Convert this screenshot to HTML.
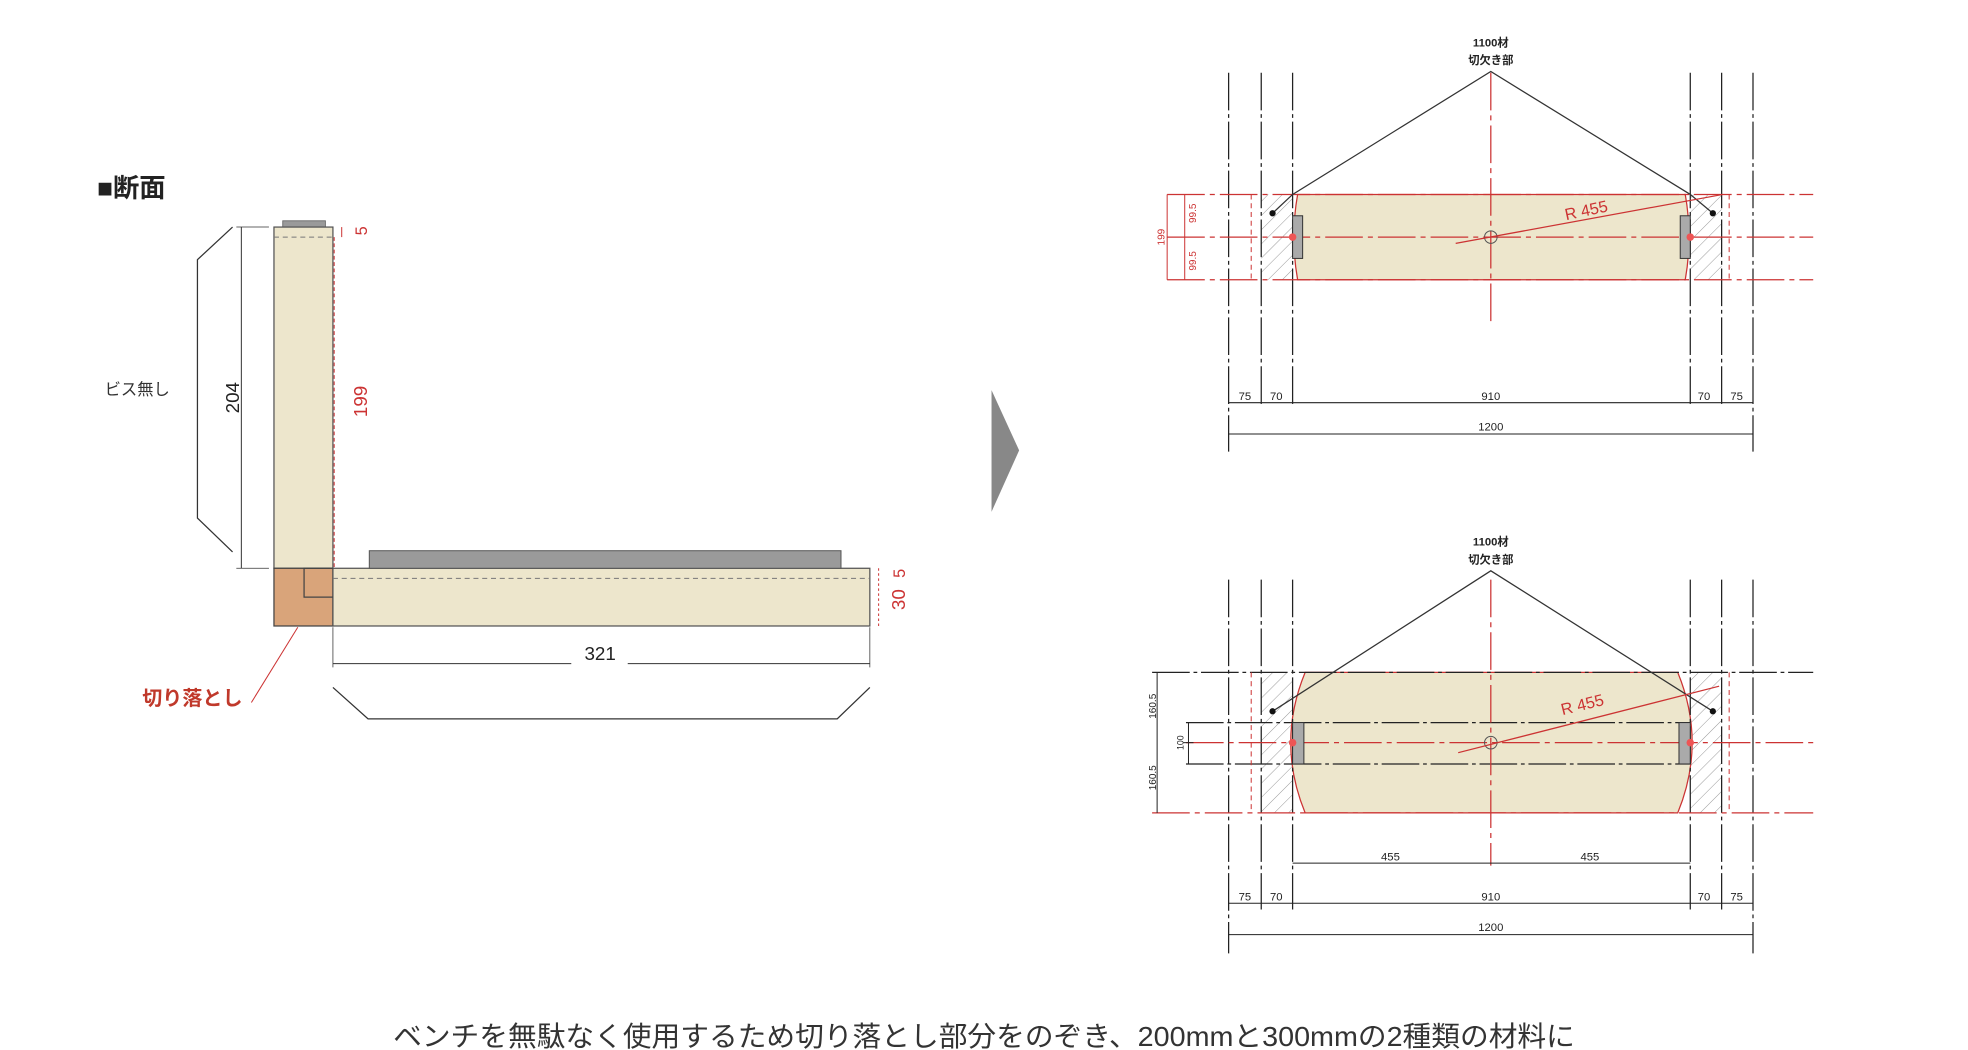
<!DOCTYPE html>
<html><head><meta charset="utf-8"><style>
html,body{margin:0;padding:0;background:#fff;}
svg{display:block;}
text{font-family:"Liberation Sans","Noto Sans CJK JP",sans-serif;}
</style></head><body>
<svg width="1968" height="1050" viewBox="0 0 1568 837" xmlns="http://www.w3.org/2000/svg">
<defs>
<pattern id="h" width="8" height="8" patternUnits="userSpaceOnUse" patternTransform="rotate(45)">
<line x1="0" y1="0" x2="0" y2="8" stroke="#999" stroke-width="0.8"/></pattern>
</defs>
<rect width="1568" height="837" fill="#fff"/>
<!-- LEFT -->
<text x="77" y="157" font-size="21" font-weight="bold" fill="#222">■断面</text>
<rect x="225" y="176" width="34" height="5" fill="#9a9a9a" stroke="#666" stroke-width="0.7"/>
<rect x="218" y="181" width="47" height="272" fill="#ede6cc" stroke="#555" stroke-width="1"/>
<line x1="218" y1="189" x2="265" y2="189" stroke="#777" stroke-dasharray="4,3" stroke-width="0.8"/>
<rect x="218" y="453" width="47" height="46" fill="#d9a47a" stroke="#444" stroke-width="1"/>
<rect x="265" y="453" width="428" height="46" fill="#ede6cc" stroke="#555" stroke-width="1"/>
<polyline points="265,453 242,453 242,476 265,476" fill="none" stroke="#444" stroke-width="1"/>
<rect x="294" y="439" width="376" height="14" fill="#9a9a9a" stroke="#555" stroke-width="0.8"/>
<line x1="265" y1="461" x2="693" y2="461" stroke="#777" stroke-dasharray="4,3" stroke-width="0.8"/>
<!-- dims -->
<line x1="192" y1="181" x2="192" y2="453" stroke="#333" stroke-width="0.8"/>
<line x1="188" y1="181" x2="214" y2="181" stroke="#333" stroke-width="0.6"/>
<line x1="188" y1="453" x2="214" y2="453" stroke="#333" stroke-width="0.6"/>
<text transform="translate(190,317) rotate(-90)" font-size="15" text-anchor="middle" fill="#222">204</text>
<polyline points="185,181 157,207 157,413 185,440" fill="none" stroke="#333" stroke-width="1"/>
<text x="83" y="315" font-size="13" fill="#333">ビス無し</text>
<line x1="266" y1="189" x2="266" y2="453" stroke="#c33" stroke-dasharray="3,2" stroke-width="0.8"/>
<line x1="272" y1="181" x2="272" y2="189" stroke="#c33" stroke-width="0.8"/>
<text transform="translate(292,184) rotate(-90)" font-size="13" text-anchor="middle" fill="#c33">5</text>
<text transform="translate(292,320) rotate(-90)" font-size="15" text-anchor="middle" fill="#c33">199</text>
<line x1="700" y1="453" x2="700" y2="499" stroke="#c33" stroke-width="0.8" stroke-dasharray="2,2"/>
<text transform="translate(721,457) rotate(-90)" font-size="13" text-anchor="middle" fill="#c33">5</text>
<text transform="translate(721,478) rotate(-90)" font-size="15" text-anchor="middle" fill="#c33">30</text>
<line x1="265" y1="529" x2="455" y2="529" stroke="#333" stroke-width="0.8"/>
<line x1="500" y1="529" x2="693" y2="529" stroke="#333" stroke-width="0.8"/>
<line x1="265" y1="500" x2="265" y2="532" stroke="#333" stroke-width="0.6"/>
<line x1="693" y1="500" x2="693" y2="532" stroke="#333" stroke-width="0.6"/>
<text x="478" y="526" font-size="15" text-anchor="middle" fill="#222">321</text>
<polyline points="265,548 293,573 667,573 693,548" fill="none" stroke="#333" stroke-width="1"/>
<line x1="237" y1="500" x2="200" y2="560" stroke="#c33" stroke-width="0.8"/>
<text x="113" y="562" font-size="16" font-weight="bold" fill="#c0392b">切り落とし</text>
<!-- arrow -->
<polygon points="790,311 812,359 790,408" fill="#888"/>

<!-- RIGHT TOP -->
<g id="top">
<rect x="1005" y="155" width="25" height="68" fill="url(#h)"/>
<rect x="1347" y="155" width="25" height="68" fill="url(#h)"/>
<path d="M1034,155 L1343,155 Q1349,189 1343,223 L1034,223 Q1028,189 1034,155 Z" fill="#ede6cc" stroke="#c33" stroke-width="1"/>
<g stroke="#222" stroke-width="1" stroke-dasharray="30,3,3,3">
<line x1="979" y1="58" x2="979" y2="360"/><line x1="1005" y1="58" x2="1005" y2="325"/><line x1="1030" y1="58" x2="1030" y2="325"/>
<line x1="1347" y1="58" x2="1347" y2="325"/><line x1="1372" y1="58" x2="1372" y2="325"/><line x1="1397" y1="58" x2="1397" y2="360"/>
</g>
<g stroke="#c33" stroke-width="1" stroke-dasharray="30,4,4,4">
<line x1="930" y1="155" x2="1445" y2="155"/><line x1="930" y1="189" x2="1445" y2="189"/><line x1="930" y1="223" x2="1445" y2="223"/>
<line x1="1188" y1="58" x2="1188" y2="260"/>
</g>
<g stroke="#c33" stroke-width="0.8" stroke-dasharray="4,3"><line x1="997" y1="155" x2="997" y2="223"/><line x1="1378" y1="155" x2="1378" y2="223"/></g>
<rect x="1030" y="172" width="8" height="34" fill="#aaa" stroke="#333" stroke-width="0.8"/>
<rect x="1339" y="172" width="8" height="34" fill="#aaa" stroke="#333" stroke-width="0.8"/>
<circle cx="1030" cy="189" r="3" fill="#e55"/><circle cx="1347" cy="189" r="3" fill="#e55"/>
<circle cx="1188" cy="189" r="5" fill="none" stroke="#555" stroke-width="0.8"/>
<polyline points="1014,170 1030,155 1188,57 1347,155 1365,170" fill="none" stroke="#333" stroke-width="1"/>
<circle cx="1014" cy="170" r="2.5" fill="#111"/><circle cx="1365" cy="170" r="2.5" fill="#111"/>
<line x1="1160" y1="194" x2="1373" y2="155" stroke="#c33" stroke-width="1"/>
<text transform="translate(1265,172) rotate(-12)" font-size="13" text-anchor="middle" fill="#c33">R 455</text>
<text x="1188" y="37" font-size="9" font-weight="bold" text-anchor="middle" fill="#222">1100材</text>
<text x="1188" y="51" font-size="9" font-weight="bold" text-anchor="middle" fill="#222">切欠き部</text>
<g stroke="#c33" stroke-width="0.8"><line x1="930" y1="155" x2="930" y2="223"/><line x1="944" y1="155" x2="944" y2="223"/></g>
<text transform="translate(928,189) rotate(-90)" font-size="8" text-anchor="middle" fill="#c33">199</text>
<text transform="translate(953,170) rotate(-90)" font-size="8" text-anchor="middle" fill="#c33">99.5</text>
<text transform="translate(953,208) rotate(-90)" font-size="8" text-anchor="middle" fill="#c33">99.5</text>
<g stroke="#222" stroke-width="0.8"><line x1="979" y1="321" x2="1397" y2="321"/><line x1="979" y1="346" x2="1397" y2="346"/></g>
<g font-size="9" text-anchor="middle" fill="#222">
<text x="992" y="319">75</text><text x="1017" y="319">70</text><text x="1188" y="319">910</text><text x="1358" y="319">70</text><text x="1384" y="319">75</text><text x="1188" y="343">1200</text></g>
</g>

<!-- RIGHT BOTTOM -->
<rect x="1005" y="536" width="25" height="112" fill="url(#h)"/>
<rect x="1347" y="536" width="25" height="112" fill="url(#h)"/>
<path d="M1040,536 L1337,536 Q1360,592 1337,648 L1040,648 Q1017,592 1040,536 Z" fill="#ede6cc" stroke="#c33" stroke-width="1"/>
<g stroke="#222" stroke-width="1" stroke-dasharray="30,3,3,3">
<line x1="979" y1="462" x2="979" y2="760"/><line x1="1005" y1="462" x2="1005" y2="725"/><line x1="1030" y1="462" x2="1030" y2="725"/>
<line x1="1347" y1="462" x2="1347" y2="725"/><line x1="1372" y1="462" x2="1372" y2="725"/><line x1="1397" y1="462" x2="1397" y2="760"/>
<line x1="918" y1="536" x2="1445" y2="536"/>
<line x1="945" y1="576" x2="1347" y2="576"/><line x1="945" y1="609" x2="1347" y2="609"/>
</g>
<g stroke="#c33" stroke-width="1" stroke-dasharray="30,4,4,4">
<line x1="945" y1="592" x2="1445" y2="592"/><line x1="918" y1="648" x2="1445" y2="648"/>
<line x1="1188" y1="462" x2="1188" y2="690"/>
</g>
<g stroke="#c33" stroke-width="0.8" stroke-dasharray="4,3"><line x1="997" y1="536" x2="997" y2="648"/><line x1="1378" y1="536" x2="1378" y2="648"/></g>
<rect x="1030" y="576" width="9" height="33" fill="#aaa" stroke="#333" stroke-width="0.8"/>
<rect x="1338" y="576" width="9" height="33" fill="#aaa" stroke="#333" stroke-width="0.8"/>
<circle cx="1030" cy="592" r="3" fill="#e55"/><circle cx="1347" cy="592" r="3" fill="#e55"/>
<circle cx="1188" cy="592" r="5" fill="none" stroke="#555" stroke-width="0.8"/>
<polyline points="1014,567 1188,455 1365,567" fill="none" stroke="#333" stroke-width="1"/>
<circle cx="1014" cy="567" r="2.5" fill="#111"/><circle cx="1365" cy="567" r="2.5" fill="#111"/>
<line x1="1162" y1="600" x2="1370" y2="547" stroke="#c33" stroke-width="1"/>
<text transform="translate(1262,566) rotate(-14)" font-size="13" text-anchor="middle" fill="#c33">R 455</text>
<text x="1188" y="435" font-size="9" font-weight="bold" text-anchor="middle" fill="#222">1100材</text>
<text x="1188" y="449" font-size="9" font-weight="bold" text-anchor="middle" fill="#222">切欠き部</text>
<g stroke="#222" stroke-width="0.8"><line x1="922" y1="536" x2="922" y2="648"/><line x1="947" y1="576" x2="947" y2="609"/><line x1="943" y1="592" x2="951" y2="592"/></g>
<text transform="translate(921,563) rotate(-90)" font-size="8" text-anchor="middle" fill="#222">160.5</text>
<text transform="translate(921,620) rotate(-90)" font-size="8" text-anchor="middle" fill="#222">160.5</text>
<text transform="translate(943,592) rotate(-90)" font-size="7" text-anchor="middle" fill="#222">100</text>
<g stroke="#222" stroke-width="0.8"><line x1="1030" y1="688" x2="1347" y2="688"/><line x1="979" y1="720" x2="1397" y2="720"/><line x1="979" y1="745" x2="1397" y2="745"/></g>
<g font-size="9" text-anchor="middle" fill="#222">
<text x="1108" y="686">455</text><text x="1267" y="686">455</text>
<text x="992" y="718">75</text><text x="1017" y="718">70</text><text x="1188" y="718">910</text><text x="1358" y="718">70</text><text x="1384" y="718">75</text><text x="1188" y="742">1200</text></g>

<!-- caption -->
<text x="313" y="834" font-size="22" textLength="942" lengthAdjust="spacingAndGlyphs" fill="#333">ベンチを無駄なく使用するため切り落とし部分をのぞき、200mmと300mmの2種類の材料に</text>
</svg>
</body></html>
